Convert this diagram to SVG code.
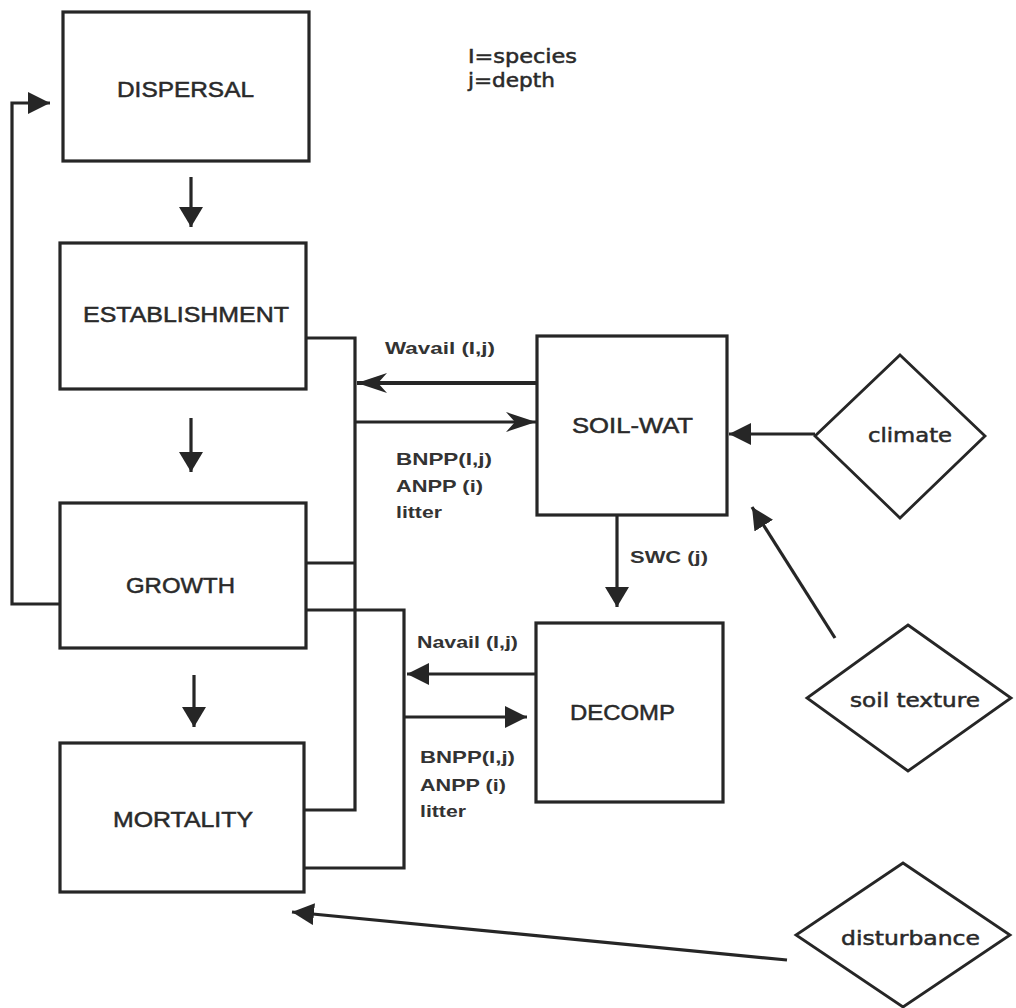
<svg xmlns="http://www.w3.org/2000/svg" width="1016" height="1008" viewBox="0 0 1016 1008">
<style>
.box{fill:#fff;stroke:#262626;stroke-width:3.2}
.dia{fill:#fff;stroke:#262626;stroke-width:2.8}
.ln{fill:none;stroke:#262626;stroke-width:3.2}
.lbl{font-family:"Liberation Sans",Arial,sans-serif;font-size:22px;fill:#2a2a2a;stroke:#2a2a2a;stroke-width:0.5}
.sm{font-family:"Liberation Sans",Arial,sans-serif;font-size:17px;font-weight:bold;fill:#333}
.dv{font-family:"DejaVu Sans",Verdana,sans-serif;font-size:19px;fill:#2a2a2a;stroke:#2a2a2a;stroke-width:0.5}
</style>
<defs>
<marker id="tri" markerUnits="userSpaceOnUse" markerWidth="22" markerHeight="22" viewBox="0 0 22 22" refX="22" refY="11" orient="auto"><path d="M0,0 L22,11 L0,22 z" fill="#262626"/></marker>
<marker id="triv" markerUnits="userSpaceOnUse" markerWidth="20" markerHeight="24" viewBox="0 0 20 24" refX="20" refY="12" orient="auto"><path d="M0,0 L20,12 L0,24 z" fill="#262626"/></marker>
<marker id="notch" markerUnits="userSpaceOnUse" markerWidth="30" markerHeight="20" viewBox="0 0 30 20" refX="30" refY="10" orient="auto"><path d="M30,10 L0,0 L9,10 L0,20 z" fill="#262626"/></marker>
</defs>
<rect width="1016" height="1008" fill="#fff"/>
<g id="connectors">
<path class="ln" d="M60,604 H12 V103 H50" marker-end="url(#tri)"/>
<line class="ln" x1="191" y1="177" x2="191" y2="227" marker-end="url(#triv)"/>
<line class="ln" x1="191" y1="418" x2="191" y2="472" marker-end="url(#triv)"/>
<line class="ln" x1="194" y1="675" x2="194" y2="727" marker-end="url(#triv)"/>
<path class="ln" d="M306,338 H355 V810 H304"/>
<path class="ln" d="M306,563 H355"/>
<path class="ln" d="M306,610 H404 V868 H304"/>
<line class="ln" x1="537" y1="383" x2="357" y2="383" marker-end="url(#notch)" style="stroke-width:4"/>
<line class="ln" x1="355" y1="422" x2="536" y2="422" marker-end="url(#notch)"/>
<line class="ln" x1="535" y1="674" x2="407" y2="674" marker-end="url(#tri)"/>
<line class="ln" x1="404" y1="717" x2="527" y2="717" marker-end="url(#tri)"/>
<line class="ln" x1="617" y1="515" x2="617" y2="607" marker-end="url(#triv)"/>
<line class="ln" x1="815" y1="434" x2="729" y2="434" marker-end="url(#tri)"/>
<line class="ln" x1="835" y1="638" x2="752" y2="507" marker-end="url(#tri)"/>
<line class="ln" x1="787" y1="960" x2="292" y2="912" marker-end="url(#tri)"/>
</g>
<g id="dispersal"><rect class="box" x="63" y="12" width="246" height="149"/><text class="lbl" x="117" y="97" textLength="137" lengthAdjust="spacingAndGlyphs">DISPERSAL</text></g>
<g id="establishment"><rect class="box" x="60" y="243" width="246" height="146"/><text class="lbl" x="83" y="322" textLength="206" lengthAdjust="spacingAndGlyphs">ESTABLISHMENT</text></g>
<g id="growth"><rect class="box" x="60" y="503" width="246" height="145"/><text class="lbl" x="126" y="593" textLength="109" lengthAdjust="spacingAndGlyphs">GROWTH</text></g>
<g id="mortality"><rect class="box" x="60" y="743" width="244" height="149"/><text class="lbl" x="113" y="827" textLength="140" lengthAdjust="spacingAndGlyphs">MORTALITY</text></g>
<g id="soilwat"><rect class="box" x="537" y="336" width="190" height="179"/><text class="lbl" x="572" y="433" textLength="121" lengthAdjust="spacingAndGlyphs">SOIL-WAT</text></g>
<g id="decomp"><rect class="box" x="536" y="623" width="187" height="179"/><text class="lbl" x="570" y="720" textLength="105" lengthAdjust="spacingAndGlyphs">DECOMP</text></g>
<g id="climate"><polygon class="dia" points="900,355 985,436 900,518 815,436"/><text class="dv" x="868" y="442" textLength="84" lengthAdjust="spacingAndGlyphs">climate</text></g>
<g id="soiltexture"><polygon class="dia" points="908,625 1011,698 908,771 807,698"/><text class="dv" x="850" y="707" textLength="130" lengthAdjust="spacingAndGlyphs">soil texture</text></g>
<g id="disturbance"><polygon class="dia" points="903,863 1010,935 903,1007 796,935"/><text class="dv" x="841" y="945" textLength="139" lengthAdjust="spacingAndGlyphs">disturbance</text></g>
<g id="legend">
<text class="dv" x="468" y="63" textLength="109" lengthAdjust="spacingAndGlyphs">I=species</text>
<text class="dv" x="468" y="87" textLength="87" lengthAdjust="spacingAndGlyphs">j=depth</text>
</g>
<g id="labels">
<text class="sm" x="385" y="354" textLength="110" lengthAdjust="spacingAndGlyphs">Wavail (I,j)</text>
<text class="sm" x="396" y="465" textLength="96" lengthAdjust="spacingAndGlyphs">BNPP(I,j)</text>
<text class="sm" x="396" y="492" textLength="87" lengthAdjust="spacingAndGlyphs">ANPP (i)</text>
<text class="sm" x="396" y="518" textLength="46" lengthAdjust="spacingAndGlyphs">litter</text>
<text class="sm" x="630" y="563" textLength="78" lengthAdjust="spacingAndGlyphs">SWC (j)</text>
<text class="sm" x="417" y="648" textLength="101" lengthAdjust="spacingAndGlyphs">Navail (I,j)</text>
<text class="sm" x="420" y="763" textLength="95" lengthAdjust="spacingAndGlyphs">BNPP(I,j)</text>
<text class="sm" x="420" y="791" textLength="86" lengthAdjust="spacingAndGlyphs">ANPP (i)</text>
<text class="sm" x="420" y="817" textLength="46" lengthAdjust="spacingAndGlyphs">litter</text>
</g>
</svg>
